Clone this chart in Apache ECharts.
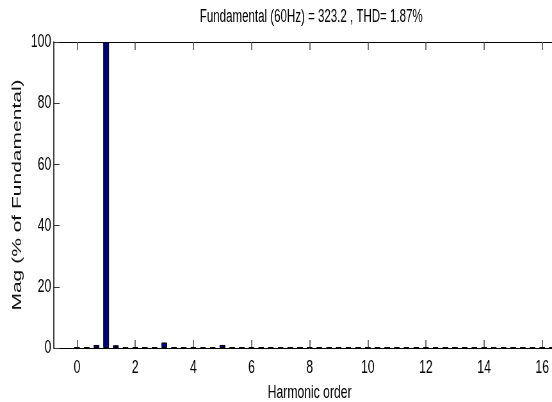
<!DOCTYPE html>
<html>
<head>
<meta charset="utf-8">
<title>Harmonic spectrum</title>
<script src="https://cdn.jsdelivr.net/npm/echarts@6/dist/echarts.min.js"></script>
<style>
  html, body { margin: 0; padding: 0; background: #fff; }
  #frame { width: 552px; height: 402px; overflow: hidden; position: relative; }
  /* The chart is laid out wider and squeezed horizontally, giving the narrow, tall lettering;
     its right edge runs past the frame so the plot box is open on that side */
  #chart { width: 883px; height: 402px; transform: scaleX(0.6404); transform-origin: 0 0; }
</style>
</head>
<body>
<div id="frame"><div id="chart"></div></div>
<script>
// Harmonic orders in steps of 1/3 (20 Hz resolution on a 60 Hz fundamental)
const harmonicOrders = [
  0, 0.333, 0.667, 1, 1.333, 1.667, 2, 2.333, 2.667, 3, 3.333, 3.667,
  4, 4.333, 4.667, 5, 5.333, 5.667, 6, 6.333, 6.667, 7, 7.333, 7.667,
  8, 8.333, 8.667, 9, 9.333, 9.667, 10, 10.333, 10.667, 11, 11.333, 11.667,
  12, 12.333, 12.667, 13, 13.333, 13.667, 14, 14.333, 14.667, 15, 15.333, 15.667,
  16, 16.333, 16.667
];
// Magnitude of each component, % of fundamental
const magnitudes = [
  0.25, 0.25, 1.0, 100, 0.9, 0.25, 0.25, 0.25, 0.25, 1.8, 0.25, 0.25,
  0.25, 0.25, 0.25, 1.0, 0.25, 0.25, 0.25, 0.25, 0.25, 0.25, 0.25, 0.25,
  0.25, 0.25, 0.25, 0.25, 0.25, 0.25, 0.25, 0.25, 0.25, 0.25, 0.25, 0.25,
  0.25, 0.25, 0.25, 0.25, 0.25, 0.25, 0.25, 0.25, 0.25, 0.25, 0.25, 0.25,
  0.25, 0.25, 0.25
];
const xTickValues = [0, 2, 4, 6, 8, 10, 12, 14, 16];
const yTickValues = [0, 20, 40, 60, 80, 100];
const titleText = 'Fundamental (60Hz) = 323.2 , THD= 1.87%';
const xName = 'Harmonic order';
const yName = 'Mag (% of Fundamental)';

const FONT = "'Liberation Sans', Arial, Helvetica, sans-serif";
const chart = echarts.init(document.getElementById('chart'), null, { renderer: 'canvas' });

const xCommon = {
  type: 'value',
  min: -0.8,
  max: 16.8,
  splitLine: { show: false },
  axisLine: { show: true, onZero: false, lineStyle: { color: '#000', width: 1 } },
  axisTick: { show: true, inside: true, length: 8, customValues: xTickValues,
              lineStyle: { color: '#444', width: 1.5 } }
};

chart.setOption({
  animation: false,
  backgroundColor: '#fff',
  title: {
    text: titleText,
    left: 481, top: 3, textAlign: 'center',
    textStyle: { fontFamily: FONT, fontSize: 18, fontWeight: 'normal', color: '#000' }
  },
  grid: { left: 84, right: 0, top: 42, bottom: 54, containLabel: false, outerBoundsMode: 'none' },
  xAxis: [
    Object.assign({}, xCommon, {
      position: 'bottom',
      axisLabel: { customValues: xTickValues, margin: 10, fontFamily: FONT, fontSize: 19, color: '#000' },
      name: xName, nameLocation: 'middle', nameGap: 35,
      nameTextStyle: { fontFamily: FONT, fontSize: 19, color: '#000' }
    }),
    Object.assign({}, xCommon, {
      position: 'top',
      axisLabel: { show: false }
    })
  ],
  yAxis: {
    type: 'value',
    min: 0, max: 100, interval: 20,
    splitLine: { show: false },
    axisLine: { show: true, onZero: false, lineStyle: { color: '#000', width: 1.5 } },
    axisTick: { show: true, inside: true, length: 9, customValues: yTickValues,
                lineStyle: { color: '#333', width: 1 } },
    axisLabel: { margin: 4, fontFamily: FONT, fontSize: 19, color: '#000' },
    name: yName, nameLocation: 'middle', nameGap: 32, nameRotate: 90,
    nameTextStyle: { fontFamily: FONT, fontSize: 21, color: '#111' }
  },
  series: [{
    type: 'bar',
    xAxisIndex: 0,
    barWidth: 9,
    data: harmonicOrders.map((h, i) => [h, magnitudes[i]]),
    itemStyle: { color: '#00007f', borderColor: '#000', borderWidth: 1 }
  }]
});
</script>
</body>
</html>
